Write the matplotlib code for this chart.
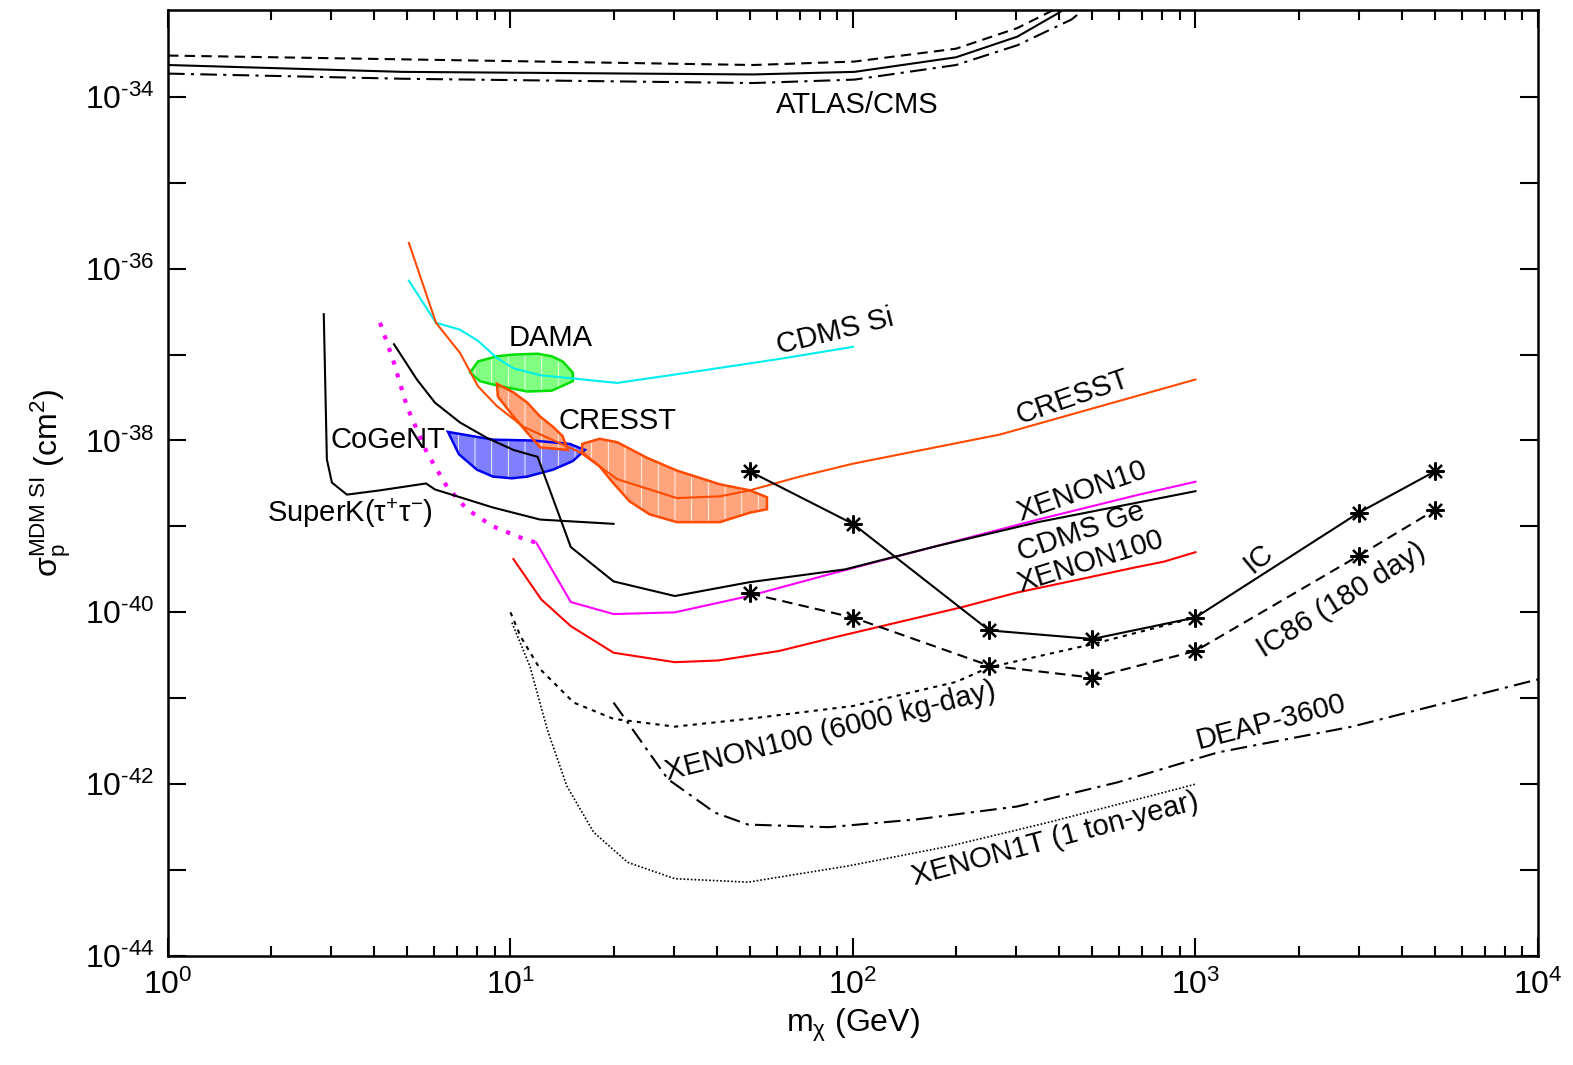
import numpy as np
import matplotlib
matplotlib.use("Agg")
import matplotlib.pyplot as plt
from matplotlib.ticker import FixedLocator, FuncFormatter, LogLocator, NullLocator, NullFormatter

plt.rcParams['font.family'] = ['Liberation Sans', 'DejaVu Sans']
plt.rcParams['mathtext.fontset'] = 'custom'
plt.rcParams['mathtext.rm'] = 'Liberation Sans'
plt.rcParams['mathtext.it'] = 'Liberation Sans:italic'
plt.rcParams['mathtext.sf'] = 'Liberation Sans'
plt.rcParams['hatch.linewidth'] = 0.6

# ---- data: mass in GeV, cross sections stored as log10(sigma / cm^2) ----
atlas_m = [1, 4.85, 51, 101, 200, 302, 400, 460]
atlas_solid = [-33.63, -33.71, -33.74, -33.71, -33.54, -33.30, -33.02, -32.85]
atlas_dash_m = [1, 51, 101, 200, 302, 385, 440]
atlas_dash = [-33.52, -33.63, -33.59, -33.44, -33.20, -32.99, -32.85]
atlas_dd_m = [1, 4.85, 51, 101, 200, 302, 435, 500]
atlas_dd = [-33.73, -33.79, -33.84, -33.80, -33.63, -33.40, -33.10, -32.9]

cdms_si_m = [5.05, 6.06, 7.12, 8.04, 9.13, 10.2, 12.2, 20.5, 35.7, 61.2, 100]
cdms_si = [-36.14, -36.63, -36.71, -36.84, -37.04, -37.16, -37.24, -37.33, -37.19, -37.05, -36.91]

cresst_m = [5.05, 6.06, 7.12, 8.04, 9.13, 10.9, 16.0, 20.5, 30.6, 40.9, 50.0, 70.0, 100, 269, 1000]
cresst = [-35.70, -36.63, -36.98, -37.37, -37.60, -37.84, -38.14, -38.45, -38.67, -38.65, -38.58, -38.42, -38.27, -37.93, -37.29]

xenon10_dot_m = [4.16, 4.54, 4.99, 5.70, 6.53, 7.46, 8.89, 10.7, 11.9]
xenon10_dot = [-36.63, -37.06, -37.61, -38.14, -38.54, -38.80, -39.00, -39.13, -39.19]
xenon10_m = [11.9, 15.0, 20.0, 30.2, 49.7, 88.5, 175, 347, 684, 1000]
xenon10 = [-39.19, -39.88, -40.02, -40.00, -39.81, -39.54, -39.23, -38.92, -38.63, -38.48]

cdms_ge_m = [4.57, 5.33, 6.02, 7.12, 8.54, 10.2, 12.0, 15.0, 20.0, 30.2, 49.7, 94.8, 175, 347, 1000]
cdms_ge = [-36.88, -37.29, -37.56, -37.79, -37.97, -38.11, -38.19, -39.24, -39.64, -39.81, -39.65, -39.50, -39.23, -38.95, -38.59]

xenon100_m = [10.2, 12.3, 15.0, 20.0, 30.2, 40.4, 60.8, 88.5, 134, 208, 301, 454, 661, 809, 1000]
xenon100 = [-39.38, -39.85, -40.16, -40.47, -40.58, -40.56, -40.45, -40.29, -40.12, -39.94, -39.77, -39.62, -39.48, -39.41, -39.30]

superk_m = [2.85, 2.91, 3.01, 3.33, 4.16, 5.67, 6.02, 7.12, 8.89, 12.2, 20.0]
superk = [-36.53, -38.22, -38.49, -38.63, -38.58, -38.50, -38.57, -38.66, -38.78, -38.92, -38.97]

x100_6000_m = [10.0, 10.7, 12.2, 15.3, 20.0, 30.2, 49.4, 100, 200, 250, 500, 1000]
x100_6000 = [-40.00, -40.28, -40.66, -41.05, -41.24, -41.33, -41.24, -41.09, -40.81, -40.64, -40.37, -40.06]

xenon1t_m = [10.1, 11.4, 12.8, 14.6, 17.5, 22.0, 30.2, 49.4, 97.3, 192, 376, 1000]
xenon1t = [-40.12, -40.63, -41.36, -42.02, -42.56, -42.91, -43.10, -43.14, -42.95, -42.72, -42.44, -42.00]

deap_m = [20.0, 28.8, 39.5, 49.4, 85, 153, 301, 590, 1163, 2865, 10000]
deap = [-41.05, -41.94, -42.33, -42.47, -42.50, -42.41, -42.26, -41.98, -41.63, -41.33, -40.78]

ic_m = [50, 100, 250, 500, 1000, 3000, 5000]
ic = [-38.36, -38.97, -40.21, -40.31, -40.06, -38.84, -38.36]
ic86 = [-39.78, -40.06, -40.62, -40.76, -40.45, -39.34, -38.81]

# allowed regions (closed polygons)
dama_m = [7.62, 8.04, 9.13, 10.2, 12.0, 13.2, 14.2, 15.2, 15.2, 13.2, 11.2, 9.13, 8.15]
dama = [-37.21, -37.08, -37.02, -37.00, -36.99, -37.02, -37.08, -37.21, -37.31, -37.42, -37.43, -37.36, -37.31]

cogent_m = [6.57, 8.89, 11.6, 14.9, 16.5, 15.2, 13.3, 11.2, 10.1, 8.89, 7.98, 7.07]
cogent = [-37.90, -37.99, -38.00, -38.04, -38.11, -38.24, -38.34, -38.42, -38.44, -38.42, -38.34, -38.16]

cresst1_m = [9.13, 10.2, 11.2, 12.2, 13.3, 14.2, 14.7, 12.2, 11.2, 10.2, 9.19]
cresst1 = [-37.34, -37.44, -37.56, -37.72, -37.84, -37.95, -38.11, -38.08, -37.91, -37.72, -37.49]

cresst2_m = [16.2, 18.2, 20.5, 25.0, 30.6, 40.9, 50.0, 56.1, 56.1, 50.0, 40.9, 30.6, 25.5, 22.3, 19.9, 18.2, 16.2]
cresst2 = [-38.04, -37.98, -38.02, -38.20, -38.35, -38.51, -38.58, -38.66, -38.80, -38.84, -38.95, -38.95, -38.86, -38.71, -38.49, -38.30, -38.14]


def s(v):
    return 10 ** np.array(v)


fig = plt.figure(figsize=(15.73, 10.65), dpi=100)
ax = fig.add_axes([0.1068, 0.1023, 0.8709, 0.8883])
ax.set_xscale("log")
ax.set_yscale("log")
ax.set_xlim(1, 1e4)
ax.set_ylim(1e-44, 10 ** -32.99)

# filled regions with faint vertical hatching
regions = [
    (dama_m, dama, '#80ff80', '#00dd00'),
    (cogent_m, cogent, '#8080ff', '#0000ee'),
    (cresst1_m, cresst1, '#ffa47c', '#ff4a00'),
    (cresst2_m, cresst2, '#ffa47c', '#ff4a00'),
]
for xs, ys, fc, ec in regions:
    ax.fill(xs, s(ys), facecolor=fc, edgecolor='white', hatch='|', lw=0, zorder=1)
    ax.fill(xs, s(ys), facecolor='none', edgecolor=ec, lw=1.8, zorder=2)

lw = 1.5
ax.plot(atlas_m, s(atlas_solid), color='black', lw=lw)
ax.plot(atlas_dash_m, s(atlas_dash), color='black', lw=lw, ls=(0, (5, 3)))
ax.plot(atlas_dd_m, s(atlas_dd), color='black', lw=lw, ls=(0, (8, 3, 1.5, 3)))

ax.plot(cdms_si_m, s(cdms_si), color='#00eeee', lw=lw, zorder=3)
ax.plot(cresst_m, s(cresst), color='#ff4a00', lw=lw, zorder=3)
ax.plot(xenon10_dot_m, s(xenon10_dot), color='#ff00ff', lw=3, ls=(0, (1, 2.2)), zorder=3)
ax.plot(xenon10_m, s(xenon10), color='#ff00ff', lw=lw, zorder=3)
ax.plot(cdms_ge_m, s(cdms_ge), color='black', lw=lw, zorder=3)
ax.plot(xenon100_m, s(xenon100), color='#ff0000', lw=lw, zorder=3)
ax.plot(superk_m, s(superk), color='black', lw=lw, zorder=3)
ax.plot(x100_6000_m, s(x100_6000), color='black', lw=lw, ls=(0, (2, 2.5)), zorder=3)
ax.plot(xenon1t_m, s(xenon1t), color='black', lw=1.2, ls=(0, (1, 1.2)), zorder=3)
ax.plot(deap_m, s(deap), color='black', lw=lw, ls=(0, (8, 3, 1.5, 3)), zorder=3)

star = (8, 2, 0)
ax.plot(ic_m, s(ic), color='black', lw=lw, marker=star, ms=13, mew=1.6, zorder=4)
ax.plot(ic_m, s(ic86), color='black', lw=lw, ls=(0, (5, 3)), marker=star, ms=13, mew=1.6, zorder=4)

labels = [
    ("ATLAS/CMS", 103, -34.09, 0),
    ("CDMS Si", 88.6, -36.74, 14),
    ("CRESST", 439, -37.50, 19),
    ("DAMA", 13.1, -36.81, 0),
    ("CRESST", 20.6, -37.77, 0),
    ("CoGeNT", 4.39, -37.99, 0),
    ("SuperK(τ$^{\\mathregular{+}}$τ$^{\\mathregular{-}}$)", 3.40, -38.84, 0),
    ("XENON10", 466, -38.59, 19),
    ("CDMS Ge", 463, -39.06, 19),
    ("XENON100", 495, -39.41, 17.5),
    ("IC", 1531, -39.37, 40),
    ("IC86 (180 day)", 2660, -39.86, 32),
    ("XENON100 (6000 kg-day)", 86, -41.39, 14),
    ("DEAP-3600", 1660, -41.28, 14.5),
    ("XENON1T (1 ton-year)", 389, -42.64, 15),
]
for txt, xm, ly, rot in labels:
    ax.text(xm, 10 ** ly, txt, fontsize=21, ha='center', va='center',
            rotation=rot, rotation_mode='anchor', zorder=5)

# ticks
ax.xaxis.set_major_locator(LogLocator(base=10, numticks=10))
ax.xaxis.set_minor_locator(LogLocator(base=10, subs=np.arange(2, 10), numticks=20))
ax.xaxis.set_minor_formatter(NullFormatter())


def dec_label(v, pos):
    k = int(round(np.log10(v)))
    if k < 0:
        return r'10$^{\mathregular{\text{-}%d}}$' % (-k)
    return r'10$^{\mathregular{%d}}$' % k


ax.xaxis.set_major_formatter(FuncFormatter(dec_label))

ydec = np.arange(-44, -33)
ax.yaxis.set_major_locator(FixedLocator(10.0 ** ydec))
ax.yaxis.set_minor_locator(NullLocator())
ax.yaxis.set_major_formatter(FuncFormatter(
    lambda v, p: dec_label(v, p) if round(np.log10(v)) % 2 == 0 else ''))

ax.tick_params(which='both', direction='in', top=True, right=True, width=1.5, labelsize=23)
ax.tick_params(which='major', length=13, pad=10)
ax.tick_params(which='minor', length=7)
for sp in ax.spines.values():
    sp.set_linewidth(1.8)

ax.set_xlabel(r'm$_{\mathregular{χ}}$ (GeV)', fontsize=23, labelpad=4)
ax.set_ylabel(r'σ$_{\mathregular{p}}^{\mathregular{MDM\ SI}}$ (cm$^{\mathregular{2}}$)', fontsize=23, labelpad=8)

fig.savefig("out.png", dpi=100)
